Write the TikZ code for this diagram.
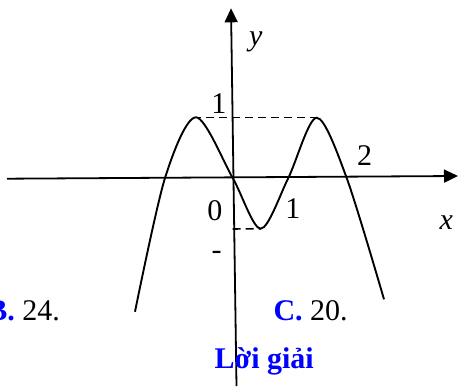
\documentclass[tikz,border=0pt]{standalone}
\usepackage{fontspec}
\setmainfont{Liberation Serif}
\usepackage{xcolor}
\usepackage{tikz}
\usetikzlibrary{arrows.meta}

\begin{document}
\begin{tikzpicture}[x=1pt,y=1pt,>={Triangle[length=14pt,width=13pt]},
  axisline/.style={line width=1.8pt},
  guide/.style={line width=1.6pt,dash pattern=on 8pt off 5pt},
  lbl/.style={font=\fontsize{30}{36}\selectfont,inner sep=0pt}]
  \useasboundingbox (-232.7,-208) rectangle (225.3,178);
  % axes
  \draw[axisline,->] (-225.7,-0.7) -- (225.3,2);
  \draw[axisline,->] (3.8,-208) -- (-1.7,169.7);
  % graph
  \coordinate (pkL) at (-36.7,60.7);
  \coordinate (pkR) at (84,60.3);
  \coordinate (tr) at (28,-50.7);
  \draw[line width=1.9pt] plot[smooth] coordinates {(-97.7,-133.7) (-67.7,0) (pkL) (0,0)
    (tr) (55.6,0) (pkR) (114,0) (151.3,-121.3)};
  \draw[guide] ([xshift=-3pt]pkL) -- ([xshift=1.3pt]pkL -| pkR);
  \draw[guide] (0,-51) -- (tr);
  % labels
  \node[lbl,anchor=base] (ylab) at (23,132.5) {\itshape y};
  \node[lbl,anchor=base] (xlab) at (213.5,-51.3) {\itshape x};
  \node[lbl,anchor=base] (one) at (-13.7,64.7) {1};
  \node[lbl,anchor=base] (two) at (132,13) {2};
  \node[lbl,anchor=base] (zero) at (-17.7,-42.7) {0};
  \node[lbl,anchor=base] (onex) at (60.3,-40.3) {1};
  \node[lbl,anchor=base] (minus) at (-16,-81.5) {-};
  % answer choices
  \node[lbl,anchor=base east] (optB) at (-172.7,-142) {\textcolor{blue}{\textbf{B.}} 24.};
  \node[lbl,anchor=base west] (optC) at (40.6,-142) {\textcolor{blue}{\textbf{C.}} 20.};
  \node[lbl,anchor=base,text=blue,font=\fontsize{30}{36}\selectfont\bfseries] (loigiai) at (31.5,-190.3) {Lời giải};
\end{tikzpicture}
\end{document}
